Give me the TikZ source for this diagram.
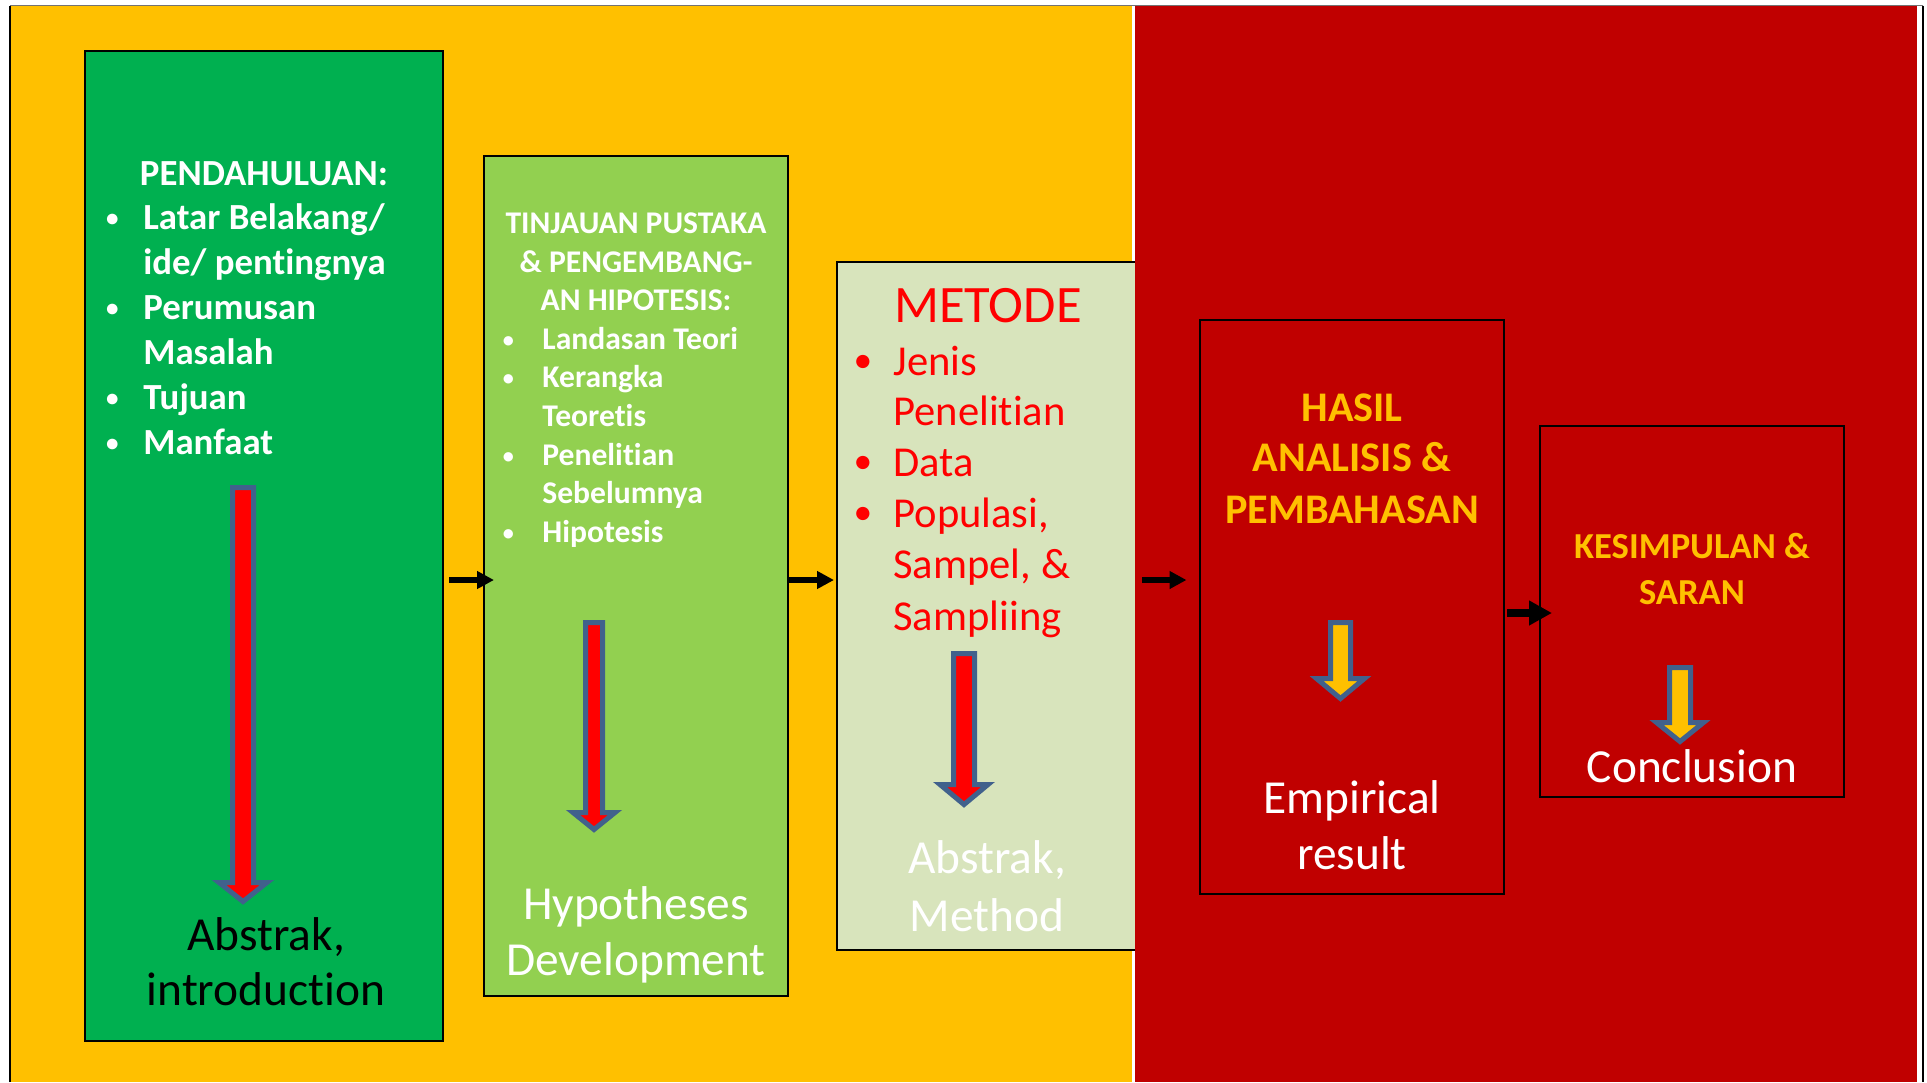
\documentclass[tikz,border=0pt]{standalone}
\usepackage{fontspec}
\setmainfont{Carlito}[Ligatures=NoCommon]
\usetikzlibrary{arrows.meta,calc}
\definecolor{bgyellow}{HTML}{FFC000}
\definecolor{bgred}{HTML}{C00000}
\definecolor{boxgreen}{HTML}{00B050}
\definecolor{boxlime}{HTML}{92D050}
\definecolor{boxpale}{HTML}{D8E4BC}
\definecolor{arrowline}{HTML}{41618C}
\definecolor{pured}{HTML}{FF0000}
\newcommand{\blkarrow}[7]{%
  \draw[draw=arrowline, line width=2.5pt, line join=miter, fill=#7]
    (#1-#5,#2) -- (#1+#5,#2) -- (#1+#5,#3) -- (#1+#6,#3) -- (#1,#4)
    -- (#1-#6,#3) -- (#1-#5,#3) -- cycle;}
\newcommand{\bul}[2]{\llap{\raisebox{0.06em}{\scalebox{#2}{\textbullet}}\hspace{#1}}}
\begin{document}
\begin{tikzpicture}[x=0.5pt,y=-0.5pt,
  box/.style={draw=black, line width=1pt, inner sep=0pt},
  conn/.style={line width=3.25pt, -{Triangle[length=8.5pt,width=8.5pt]}},
  bigconn/.style={line width=3.8pt, -{Triangle[length=11.5pt,width=11.75pt]}},
  txt/.style={inner sep=0pt, anchor=base},
  ltxt/.style={inner sep=0pt, anchor=base west},
  fa/.style={font=\fontsize{18.4}{22}\selectfont\bfseries, text=white},
  fb/.style={font=\fontsize{15.8}{19}\selectfont\bfseries, text=white},
  fc/.style={font=\fontsize{21.3}{25}\selectfont, text=pured},
  fm/.style={font=\fontsize{26.3}{30}\selectfont, text=pured},
  fd/.style={font=\fontsize{21.1}{25}\selectfont\bfseries, text=bgyellow},
  fe/.style={font=\fontsize{18.3}{22}\selectfont\bfseries, text=bgyellow},
  big/.style={font=\fontsize{23.7}{28}\selectfont},
]
\useasboundingbox (0,0) rectangle (1927,1082);
% backgrounds
\fill[white] (0,0) rectangle (1927,1082);
\fill[bgyellow] (10.5,6) rectangle (1132,1082);
\draw[line width=0.8pt, black] (10,1082) -- (10,5.5);
\draw[line width=0.5pt, black!55] (10,5.5) -- (1923,5.5);
\draw[line width=1pt, black] (1923,5.5) -- (1923,1082);
\fill[white] (1916.5,6) rectangle (1921,1082);
% boxes
\node[box, fill=boxgreen, minimum width=179pt, minimum height=495pt] (b1) at (264,546) {};
\node[box, fill=boxlime, minimum width=152pt, minimum height=420pt] (b2) at (636,576) {};
\node[box, fill=boxpale, minimum width=150pt, minimum height=344pt] (b3) at (987,606) {};
\fill[bgred] (1135,6) rectangle (1916.5,1082);
\node[box, fill=bgred, minimum width=152pt, minimum height=287pt] (b4) at (1352,607) {};
\node[box, fill=bgred, minimum width=152pt, minimum height=185.5pt] (b5) at (1692,611.5) {};
% connectors
\coordinate (yA) at (0,580);
\coordinate (yB) at (0,613);
\draw[conn] ($(b1.east |- yA)+(5,0)$) -- ($(b2.west |- yA)+(11,0)$);
\draw[conn] ($(b2.east |- yA)+(0,0)$) -- ($(b3.west |- yA)+(-2,0)$);
\draw[conn] ($(b3.east |- yA)+(4,0)$) -- ($(b4.west |- yA)+(-12.5,0)$);
\draw[bigconn] ($(b4.east |- yB)+(2,0)$) -- ($(b5.west |- yB)+(13,0)$);
% block arrows
\blkarrow{243}{487.5}{882.5}{901.5}{10.5}{24}{pured}
\blkarrow{594}{622.5}{812.5}{829.5}{8.5}{21}{pured}
\blkarrow{964}{653.5}{784.5}{804.5}{10.5}{24}{pured}
\blkarrow{1340.5}{622.5}{678.5}{698.5}{10}{24}{bgyellow}
\blkarrow{1680}{667.5}{722.5}{741.5}{10.5}{23.5}{bgyellow}
% box 1 text
\node[txt, fa] (t1h) at (264,185) {PENDAHULUAN:};
\node[ltxt, fa] (t1a) at (143,229) {\bul{12.4pt}{0.68}Latar Belakang/};
\node[ltxt, fa] (t1b) at (143,274) {ide/ pentingnya};
\node[ltxt, fa] (t1c) at (143,319) {\bul{12.4pt}{0.68}Perumusan};
\node[ltxt, fa] (t1d) at (143,364) {Masalah};
\node[ltxt, fa] (t1e) at (143,409) {\bul{12.4pt}{0.68}Tujuan};
\node[ltxt, fa] (t1f) at (143,454) {\bul{12.4pt}{0.68}Manfaat};
\node[txt, big, text=black] (t1x) at (266,950) {Abstrak,};
\node[txt, big, text=black] (t1y) at (266,1005) {introduction};
% box 2 text
\node[txt, fb] (t2h1) at (636,233) {TINJAUAN PUSTAKA};
\node[txt, fb] (t2h2) at (636,272) {\& PENGEMBANG-};
\node[txt, fb] (t2h3) at (636,310) {AN HIPOTESIS:};
\node[ltxt, fb] (t2a) at (542,349) {\bul{14.3pt}{0.7}Landasan Teori};
\node[ltxt, fb] (t2b) at (542,387) {\bul{14.3pt}{0.7}Kerangka};
\node[ltxt, fb] (t2c) at (542,426) {Teoretis};
\node[ltxt, fb] (t2d) at (542,465) {\bul{14.3pt}{0.7}Penelitian};
\node[ltxt, fb] (t2e) at (542,503) {Sebelumnya};
\node[ltxt, fb] (t2f) at (542,542) {\bul{14.3pt}{0.7}Hipotesis};
\node[txt, big, text=white] (t2x) at (636,919) {Hypotheses};
\node[txt, big, text=white] (t2y) at (636,975) {Development};
% box 3 text
\node[txt, fm] (t3h) at (988,322) {METODE};
\node[ltxt, fc] (t3a) at (893,375) {\bul{10.6pt}{0.88}Jenis};
\node[ltxt, fc] (t3b) at (893,425) {Penelitian};
\node[ltxt, fc] (t3c) at (893,476) {\bul{10.6pt}{0.88}Data};
\node[ltxt, fc] (t3d) at (893,527) {\bul{10.6pt}{0.88}Populasi,};
\node[ltxt, fc] (t3e) at (893,578) {Sampel, \&};
\node[ltxt, fc] (t3f) at (893,630) {Sampliing};
\node[txt, big, text=white] (t3x) at (987,873) {Abstrak,};
\node[txt, big, text=white] (t3y) at (987,931) {Method};
% box 4 text
\node[txt, fd] (t4a) at (1352,421) {HASIL};
\node[txt, fd] (t4b) at (1352,471) {ANALISIS \&};
\node[txt, fd] (t4c) at (1352,523) {PEMBAHASAN};
\node[txt, big, text=white] (t4x) at (1352,813) {Empirical};
\node[txt, big, text=white] (t4y) at (1352,869) {result};
% box 5 text
\node[txt, fe] (t5a) at (1692,558) {KESIMPULAN \&};
\node[txt, fe] (t5b) at (1692,604) {SARAN};
\node[txt, big, text=white] (t5x) at (1692,782) {Conclusion};
\end{tikzpicture}
\end{document}
